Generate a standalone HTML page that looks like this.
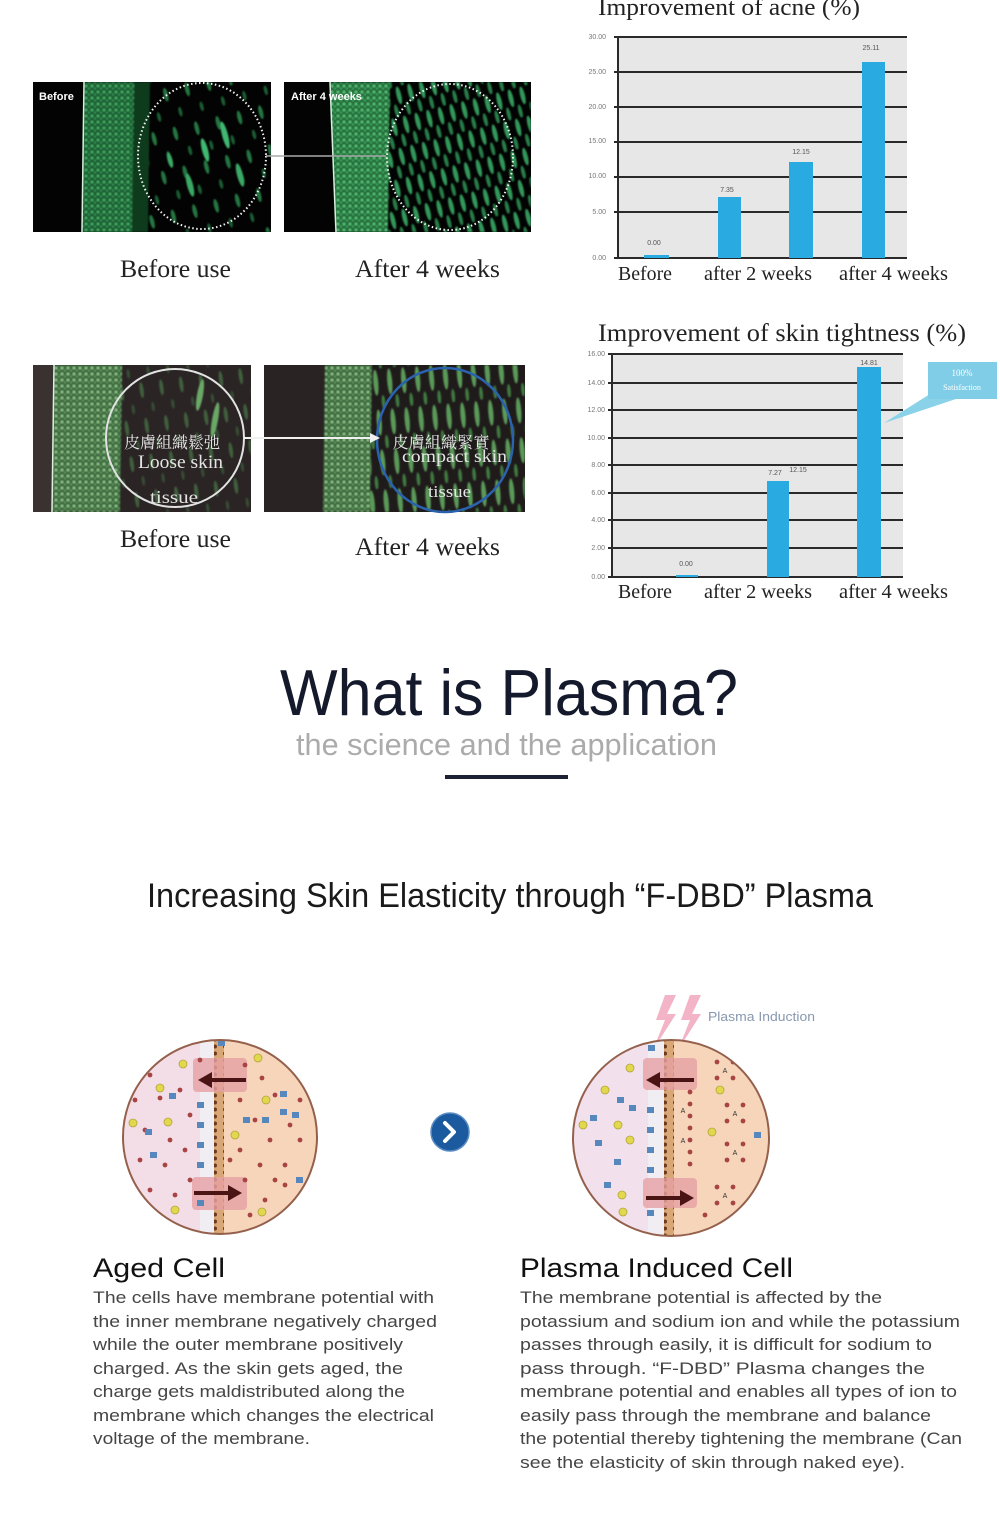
<!DOCTYPE html>
<html><head><meta charset="utf-8">
<style>
html,body{margin:0;padding:0;background:#fff;}
svg{display:block;}
</style></head><body>
<svg width="1000" height="1534" viewBox="0 0 1000 1534" xmlns="http://www.w3.org/2000/svg">
<defs>
  <filter id="blur1" x="-5%" y="-5%" width="110%" height="110%"><feGaussianBlur stdDeviation="0.9"/></filter>
  <pattern id="epi1" width="6" height="6" patternUnits="userSpaceOnUse">
    <rect width="6" height="6" fill="#1c5e30"/>
    <circle cx="2" cy="2" r="1.4" fill="#48b56a"/>
    <circle cx="5" cy="4.5" r="1.1" fill="#35975a"/>
  </pattern>
  <pattern id="epi2" width="6" height="6" patternUnits="userSpaceOnUse">
    <rect width="6" height="6" fill="#246b38"/>
    <circle cx="2" cy="2" r="1.5" fill="#58c57a"/>
    <circle cx="5" cy="4.5" r="1.2" fill="#3fa862"/>
  </pattern>
  <pattern id="epi3" width="6" height="6" patternUnits="userSpaceOnUse">
    <rect width="6" height="6" fill="#3c673e"/>
    <circle cx="2" cy="2" r="1.5" fill="#8fc48a"/>
    <circle cx="5" cy="4.5" r="1.2" fill="#5f9a5e"/>
  </pattern>
  <pattern id="st1" width="22" height="40" patternUnits="userSpaceOnUse" patternTransform="rotate(-14)">
    <ellipse cx="6" cy="12" rx="2.2" ry="7" fill="#2a8a4c"/>
    <ellipse cx="16" cy="32" rx="1.8" ry="5" fill="#1f6e3c"/>
  </pattern>
  <pattern id="st2" width="12" height="30" patternUnits="userSpaceOnUse" patternTransform="rotate(-14)">
    <ellipse cx="4" cy="9" rx="2.4" ry="9" fill="#33985a"/>
    <ellipse cx="10" cy="24" rx="2" ry="7" fill="#277e48"/>
  </pattern>
  <pattern id="st3" width="20" height="36" patternUnits="userSpaceOnUse" patternTransform="rotate(-8)">
    <ellipse cx="6" cy="10" rx="2" ry="8" fill="#4a7a48"/>
    <ellipse cx="15" cy="28" rx="1.6" ry="5" fill="#3a5e3a"/>
  </pattern>
  <pattern id="st4" width="14" height="40" patternUnits="userSpaceOnUse" patternTransform="rotate(-5)">
    <ellipse cx="5" cy="14" rx="2.5" ry="13" fill="#5a9a58"/>
    <ellipse cx="11" cy="34" rx="1.8" ry="7" fill="#3f7a40"/>
  </pattern>
  <pattern id="memb" width="10" height="7" patternUnits="userSpaceOnUse">
    <rect width="10" height="7" fill="#d9a676"/>
    <circle cx="5" cy="3.5" r="2" fill="#6a3a20"/>
  </pattern>
  <clipPath id="c1"><circle cx="220" cy="1137" r="97"/></clipPath>
  <clipPath id="c2"><circle cx="671" cy="1138" r="98"/></clipPath>
  <clipPath id="im1"><rect x="33" y="82" width="238" height="150"/></clipPath>
  <clipPath id="im2"><rect x="284" y="82" width="247" height="150"/></clipPath>
  <clipPath id="im3"><rect x="33" y="365" width="218" height="147"/></clipPath>
  <clipPath id="im4"><rect x="264" y="365" width="261" height="147"/></clipPath>
</defs>

<rect width="1000" height="1534" fill="#fff"/>

<!-- ============ IMAGE ROW 1 ============ -->
<g clip-path="url(#im1)">
  <rect x="33" y="82" width="238" height="150" fill="#020302"/>
  <g filter="url(#blur1)">
  <rect x="135" y="82" width="136" height="150" fill="url(#st1)" opacity="0.85"/>
  <polygon points="84,82 136,82 134,232 82,232" fill="url(#epi1)"/>
  <polygon points="134,82 150,82 148,232 132,232" fill="#0e3a1c"/>
  <ellipse cx="205" cy="150" rx="3" ry="12" fill="#40b870" transform="rotate(-15 205 150)"/>
  <ellipse cx="225" cy="135" rx="3" ry="14" fill="#40b870" transform="rotate(-15 225 135)"/>
  <ellipse cx="190" cy="185" rx="3" ry="12" fill="#3aa865" transform="rotate(-15 190 185)"/>
  <ellipse cx="240" cy="175" rx="3" ry="12" fill="#3aa865" transform="rotate(-15 240 175)"/>
  <ellipse cx="170" cy="160" rx="2.5" ry="8" fill="#3aa865" transform="rotate(-15 170 160)"/>
  </g>
  <line x1="84" y1="82" x2="82" y2="232" stroke="#d8efe0" stroke-width="1.5"/>
  <text x="39" y="100" font-family="Liberation Sans, sans-serif" font-weight="bold" font-size="11" fill="#fff">Before</text>
</g>
<ellipse cx="202" cy="156" rx="64" ry="73" fill="none" stroke="#f2f2f2" stroke-width="2" stroke-dasharray="1.5 2.5"/>

<g clip-path="url(#im2)">
  <rect x="284" y="82" width="247" height="150" fill="#020302"/>
  <g filter="url(#blur1)">
  <rect x="385" y="82" width="146" height="150" fill="url(#st2)"/>
  <polygon points="330,82 390,82 388,232 336,232" fill="url(#epi2)"/>
  </g>
  <line x1="330" y1="82" x2="336" y2="232" stroke="#d8efe0" stroke-width="1.5"/>
  <text x="291" y="100" font-family="Liberation Sans, sans-serif" font-weight="bold" font-size="11" fill="#fff">After 4 weeks</text>
</g>
<ellipse cx="450" cy="157" rx="63" ry="73" fill="none" stroke="#f2f2f2" stroke-width="2" stroke-dasharray="1.5 2.5"/>
<line x1="266" y1="156" x2="386" y2="156" stroke="#aaaaaa" stroke-width="1.5"/>

<text x="120" y="277" textLength="111" lengthAdjust="spacingAndGlyphs" font-family="Liberation Serif, serif" font-size="25" fill="#222">Before use</text>
<text x="355" y="277" textLength="145" lengthAdjust="spacingAndGlyphs" font-family="Liberation Serif, serif" font-size="25" fill="#222">After 4 weeks</text>

<!-- ============ IMAGE ROW 2 ============ -->
<g clip-path="url(#im3)">
  <rect x="33" y="365" width="218" height="147" fill="#2a2424"/>
  <rect x="33" y="365" width="20" height="147" fill="#3a3131"/>
  <g filter="url(#blur1)">
  <rect x="120" y="365" width="131" height="147" fill="url(#st3)" opacity="0.7"/>
  <polygon points="54,365 122,365 120,512 52,512" fill="url(#epi3)"/>
  <ellipse cx="200" cy="395" rx="3" ry="16" fill="#6aa866" transform="rotate(10 200 395)"/>
  <ellipse cx="215" cy="420" rx="3" ry="18" fill="#6aa866" transform="rotate(10 215 420)"/>
  </g>
  <line x1="54" y1="365" x2="52" y2="512" stroke="#e0f0e0" stroke-width="1.5"/>
</g>
<circle cx="175" cy="438" r="69" fill="none" stroke="#e2e2e2" stroke-width="2"/>
<text x="172" y="448" text-anchor="middle" textLength="96" lengthAdjust="spacingAndGlyphs" font-family="Liberation Serif, 'Noto Serif CJK SC', serif" font-size="16" fill="#e8e8e8">皮膚組織鬆弛</text>
<text x="138" y="468" textLength="85" lengthAdjust="spacingAndGlyphs" font-family="Liberation Serif, serif" font-size="19" fill="#e4e4e4">Loose skin</text>
<text x="150" y="503" textLength="48" lengthAdjust="spacingAndGlyphs" font-family="Liberation Serif, serif" font-size="18" fill="#e4e4e4">tissue</text>

<g clip-path="url(#im4)">
  <rect x="264" y="365" width="261" height="147" fill="#1f1b1b"/>
  <rect x="264" y="365" width="61" height="147" fill="#2a2323"/>
  <g filter="url(#blur1)">
  <rect x="370" y="365" width="155" height="147" fill="url(#st4)"/>
  <polygon points="325,365 372,365 370,512 323,512" fill="url(#epi3)"/>
  </g>
</g>
<ellipse cx="445" cy="440" rx="68" ry="72" fill="none" stroke="#2b62ad" stroke-width="2.5"/>
<line x1="244" y1="438" x2="372" y2="438" stroke="#f0f0f0" stroke-width="2"/>
<polygon points="380,438 370,433 370,443" fill="#f0f0f0"/>
<text x="441" y="448" text-anchor="middle" textLength="97" lengthAdjust="spacingAndGlyphs" font-family="Liberation Serif, 'Noto Serif CJK SC', serif" font-size="16" fill="#e8e8e8">皮膚組織緊實</text>
<text x="402" y="462" textLength="105" lengthAdjust="spacingAndGlyphs" font-family="Liberation Serif, serif" font-size="18" fill="#e4e4e4">compact skin</text>
<text x="428" y="497" textLength="43" lengthAdjust="spacingAndGlyphs" font-family="Liberation Serif, serif" font-size="17" fill="#e4e4e4">tissue</text>

<text x="120" y="547" textLength="111" lengthAdjust="spacingAndGlyphs" font-family="Liberation Serif, serif" font-size="25" fill="#222">Before use</text>
<text x="355" y="555" textLength="145" lengthAdjust="spacingAndGlyphs" font-family="Liberation Serif, serif" font-size="25" fill="#222">After 4 weeks</text>

<!-- ============ CHART 1 ============ -->
<text x="598" y="15" textLength="262" lengthAdjust="spacingAndGlyphs" font-family="Liberation Serif, serif" font-size="24" fill="#222">Improvement of acne (%)</text>
<rect x="618" y="37" width="289" height="221" fill="#e7e7e7"/>
<g stroke="#2a2a2a" stroke-width="2">
  <line x1="614" y1="37" x2="907" y2="37"/>
  <line x1="614" y1="72" x2="907" y2="72"/>
  <line x1="614" y1="107" x2="907" y2="107"/>
  <line x1="614" y1="142" x2="907" y2="142"/>
  <line x1="614" y1="177" x2="907" y2="177"/>
  <line x1="614" y1="212" x2="907" y2="212"/>
  <line x1="614" y1="258" x2="907" y2="258"/>
  <line x1="618" y1="37" x2="618" y2="258"/>
</g>
<g font-family="Liberation Sans, sans-serif" font-size="7" fill="#777" text-anchor="end">
  <text x="606" y="39">30.00</text>
  <text x="606" y="74">25.00</text>
  <text x="606" y="109">20.00</text>
  <text x="606" y="143">15.00</text>
  <text x="606" y="178">10.00</text>
  <text x="606" y="214">5.00</text>
  <text x="606" y="260">0.00</text>
</g>
<g fill="#29abe2">
  <rect x="644" y="255" width="25" height="3"/>
  <rect x="718" y="197" width="23" height="61"/>
  <rect x="789" y="162" width="24" height="96"/>
  <rect x="862" y="62" width="23" height="196"/>
</g>
<g font-family="Liberation Sans, sans-serif" font-size="7" fill="#555" text-anchor="middle">
  <text x="654" y="245">0.00</text>
  <text x="727" y="192">7.35</text>
  <text x="801" y="154">12.15</text>
  <text x="871" y="50">25.11</text>
</g>
<g font-family="Liberation Serif, serif" font-size="20" fill="#222">
  <text x="618" y="280" textLength="54" lengthAdjust="spacingAndGlyphs">Before</text>
  <text x="704" y="280" textLength="108" lengthAdjust="spacingAndGlyphs">after 2 weeks</text>
  <text x="839" y="280" textLength="109" lengthAdjust="spacingAndGlyphs">after 4 weeks</text>
</g>

<!-- ============ CHART 2 ============ -->
<text x="598" y="341" textLength="368" lengthAdjust="spacingAndGlyphs" font-family="Liberation Serif, serif" font-size="25" fill="#222">Improvement of skin tightness (%)</text>
<rect x="612" y="354" width="291" height="223" fill="#e7e7e7"/>
<g stroke="#2a2a2a" stroke-width="2">
  <line x1="608" y1="354" x2="903" y2="354"/>
  <line x1="608" y1="383" x2="903" y2="383"/>
  <line x1="608" y1="410" x2="903" y2="410"/>
  <line x1="608" y1="438" x2="903" y2="438"/>
  <line x1="608" y1="465" x2="903" y2="465"/>
  <line x1="608" y1="493" x2="903" y2="493"/>
  <line x1="608" y1="520" x2="903" y2="520"/>
  <line x1="608" y1="548" x2="903" y2="548"/>
  <line x1="608" y1="577" x2="903" y2="577"/>
  <line x1="612" y1="354" x2="612" y2="577"/>
</g>
<g font-family="Liberation Sans, sans-serif" font-size="7" fill="#777" text-anchor="end">
  <text x="605" y="356">16.00</text>
  <text x="605" y="385">14.00</text>
  <text x="605" y="412">12.00</text>
  <text x="605" y="440">10.00</text>
  <text x="605" y="467">8.00</text>
  <text x="605" y="495">6.00</text>
  <text x="605" y="522">4.00</text>
  <text x="605" y="550">2.00</text>
  <text x="605" y="579">0.00</text>
</g>
<g fill="#29abe2">
  <rect x="676" y="575" width="22" height="2"/>
  <rect x="767" y="481" width="22" height="96"/>
  <rect x="857" y="367" width="24" height="210"/>
</g>
<g font-family="Liberation Sans, sans-serif" font-size="7" fill="#555" text-anchor="middle">
  <text x="686" y="566">0.00</text>
  <text x="775" y="475">7.27</text>
  <text x="798" y="472">12.15</text>
  <text x="869" y="365">14.81</text>
</g>
<polygon points="930,394 956,399 884,423" fill="#8ad2e8"/>
<rect x="928" y="362" width="69" height="37" fill="#7fcde6"/>
<g font-family="Liberation Serif, serif" fill="#ffffff" text-anchor="middle">
  <text x="962" y="376" font-size="9">100%</text>
  <text x="962" y="390" font-size="8">Satisfaction</text>
</g>
<g font-family="Liberation Serif, serif" font-size="20" fill="#222">
  <text x="618" y="598" textLength="54" lengthAdjust="spacingAndGlyphs">Before</text>
  <text x="704" y="598" textLength="108" lengthAdjust="spacingAndGlyphs">after 2 weeks</text>
  <text x="839" y="598" textLength="109" lengthAdjust="spacingAndGlyphs">after 4 weeks</text>
</g>

<!-- ============ WHAT IS PLASMA ============ -->
<text x="280" y="715" textLength="458" lengthAdjust="spacingAndGlyphs" font-family="Liberation Sans, sans-serif" font-size="65" fill="#141a2c">What is Plasma?</text>
<text x="296" y="755" textLength="421" lengthAdjust="spacingAndGlyphs" font-family="Liberation Sans, sans-serif" font-size="31" fill="#ababab">the science and the application</text>
<rect x="445" y="775" width="123" height="4" fill="#1c2234"/>

<text x="147" y="907" textLength="726" lengthAdjust="spacingAndGlyphs" font-family="Liberation Sans, sans-serif" font-size="34" fill="#1a1a1a">Increasing Skin Elasticity through “F-DBD” Plasma</text>

<!-- ============ AGED CELL ============ -->
<g clip-path="url(#c1)">
  <rect x="120" y="1038" width="82" height="200" fill="#f3dde6"/>
  <rect x="200" y="1038" width="15" height="200" fill="#f1eef3"/>
  <rect x="223" y="1038" width="100" height="200" fill="#f6d5bb"/>
  <rect x="214" y="1038" width="10" height="200" fill="url(#memb)"/>
  <rect x="193" y="1058" width="54" height="34" rx="4" fill="#e6a0a4" opacity="0.8"/>
  <rect x="192" y="1177" width="55" height="33" rx="4" fill="#e6a0a4" opacity="0.8"/>
  <g fill="#a84444">
    <circle cx="150" cy="1075" r="2.4"/><circle cx="135" cy="1100" r="2.4"/><circle cx="160" cy="1098" r="2.4"/>
    <circle cx="180" cy="1090" r="2.4"/><circle cx="145" cy="1130" r="2.4"/><circle cx="170" cy="1140" r="2.4"/>
    <circle cx="190" cy="1115" r="2.4"/><circle cx="140" cy="1160" r="2.4"/><circle cx="165" cy="1165" r="2.4"/>
    <circle cx="185" cy="1150" r="2.4"/><circle cx="150" cy="1190" r="2.4"/><circle cx="175" cy="1195" r="2.4"/>
    <circle cx="160" cy="1215" r="2.4"/><circle cx="190" cy="1180" r="2.4"/><circle cx="200" cy="1060" r="2.4"/>
    <circle cx="245" cy="1065" r="2.4"/><circle cx="262" cy="1078" r="2.4"/><circle cx="275" cy="1095" r="2.4"/>
    <circle cx="240" cy="1100" r="2.4"/><circle cx="255" cy="1120" r="2.4"/><circle cx="270" cy="1140" r="2.4"/>
    <circle cx="290" cy="1125" r="2.4"/><circle cx="240" cy="1150" r="2.4"/><circle cx="260" cy="1165" r="2.4"/>
    <circle cx="285" cy="1165" r="2.4"/><circle cx="300" cy="1140" r="2.4"/><circle cx="245" cy="1180" r="2.4"/>
    <circle cx="265" cy="1200" r="2.4"/><circle cx="285" cy="1185" r="2.4"/><circle cx="300" cy="1100" r="2.4"/>
    <circle cx="250" cy="1215" r="2.4"/><circle cx="275" cy="1180" r="2.4"/><circle cx="230" cy="1160" r="2.4"/>
  </g>
  <g fill="#e2d84e" stroke="#b3a53a" stroke-width="0.8">
    <circle cx="183" cy="1064" r="4"/><circle cx="160" cy="1088" r="4"/><circle cx="133" cy="1123" r="4"/>
    <circle cx="168" cy="1122" r="4"/><circle cx="175" cy="1210" r="4"/><circle cx="258" cy="1058" r="4"/>
    <circle cx="266" cy="1100" r="4"/><circle cx="235" cy="1135" r="4"/><circle cx="262" cy="1212" r="4"/>
  </g>
  <g fill="#5687bd">
    <rect x="169" y="1093" width="7" height="6"/><rect x="145" y="1129" width="7" height="6"/>
    <rect x="197" y="1122" width="7" height="6"/><rect x="197" y="1142" width="7" height="6"/>
    <rect x="197" y="1162" width="7" height="6"/><rect x="150" y="1152" width="7" height="6"/>
    <rect x="197" y="1102" width="7" height="6"/><rect x="197" y="1200" width="7" height="6"/>
    <rect x="280" y="1091" width="7" height="6"/><rect x="280" y="1109" width="7" height="6"/>
    <rect x="262" y="1117" width="7" height="6"/><rect x="292" y="1112" width="7" height="6"/>
    <rect x="296" y="1177" width="7" height="6"/><rect x="243" y="1117" width="7" height="6"/>
    <rect x="218" y="1040" width="7" height="6"/>
  </g>
</g>
<circle cx="220" cy="1137" r="97" fill="none" stroke="#94604c" stroke-width="2"/>
<g stroke="#4a1414" stroke-width="4" fill="#4a1414">
  <line x1="246" y1="1080" x2="208" y2="1080"/>
  <polygon points="198,1080 212,1072 212,1088" stroke="none"/>
  <line x1="194" y1="1193" x2="232" y2="1193"/>
  <polygon points="242,1193 228,1185 228,1201" stroke="none"/>
</g>

<!-- arrow button -->
<circle cx="450" cy="1132" r="19" fill="#1b5a9e" stroke="#5a8cc4" stroke-width="1.5"/>
<path d="M445,1123 L454,1132 L445,1141" stroke="#fff" stroke-width="4" fill="none" stroke-linecap="round" stroke-linejoin="round"/>

<!-- ============ PLASMA CELL ============ -->
<polygon points="665,995 656,1020 665,1020 653,1050 676,1014 667,1014 676,995" fill="#f2b4c6"/>
<polygon points="690,995 681,1020 690,1020 678,1050 701,1014 692,1014 701,995" fill="#f2b4c6"/>
<text x="708" y="1021" textLength="107" lengthAdjust="spacingAndGlyphs" font-family="Liberation Sans, sans-serif" font-size="13" fill="#8898b0">Plasma Induction</text>
<g clip-path="url(#c2)">
  <rect x="570" y="1038" width="80" height="202" fill="#f2e0ec"/>
  <rect x="648" y="1038" width="16" height="202" fill="#f0edf3"/>
  <rect x="673" y="1038" width="100" height="202" fill="#f6d5bb"/>
  <rect x="664" y="1038" width="10" height="202" fill="url(#memb)"/>
  <rect x="643" y="1058" width="54" height="32" rx="4" fill="#e6a0a4" opacity="0.8"/>
  <rect x="643" y="1178" width="54" height="30" rx="4" fill="#e6a0a4" opacity="0.8"/>
  <g fill="#a84444">
    <circle cx="717" cy="1062" r="2.4"/><circle cx="733" cy="1062" r="2.4"/><circle cx="717" cy="1078" r="2.4"/><circle cx="733" cy="1078" r="2.4"/>
    <circle cx="727" cy="1105" r="2.4"/><circle cx="743" cy="1105" r="2.4"/><circle cx="727" cy="1121" r="2.4"/><circle cx="743" cy="1121" r="2.4"/>
    <circle cx="727" cy="1144" r="2.4"/><circle cx="743" cy="1144" r="2.4"/><circle cx="727" cy="1160" r="2.4"/><circle cx="743" cy="1160" r="2.4"/>
    <circle cx="717" cy="1187" r="2.4"/><circle cx="733" cy="1187" r="2.4"/><circle cx="717" cy="1203" r="2.4"/><circle cx="733" cy="1203" r="2.4"/>
    <circle cx="690" cy="1092" r="2.4"/><circle cx="690" cy="1104" r="2.4"/><circle cx="690" cy="1116" r="2.4"/>
    <circle cx="690" cy="1128" r="2.4"/><circle cx="690" cy="1140" r="2.4"/><circle cx="690" cy="1152" r="2.4"/>
    <circle cx="690" cy="1164" r="2.4"/><circle cx="758" cy="1085" r="2.4"/><circle cx="705" cy="1215" r="2.4"/>
  </g>
  <g fill="#333" font-family="Liberation Sans, sans-serif" font-size="7" text-anchor="middle">
    <text x="725" y="1073">A</text><text x="735" y="1116">A</text><text x="735" y="1155">A</text><text x="725" y="1198">A</text>
    <text x="683" y="1113">A</text><text x="683" y="1143">A</text>
  </g>
  <g fill="#e2d84e" stroke="#b3a53a" stroke-width="0.8">
    <circle cx="630" cy="1068" r="4"/><circle cx="605" cy="1090" r="4"/><circle cx="583" cy="1125" r="4"/>
    <circle cx="618" cy="1125" r="4"/><circle cx="630" cy="1140" r="4"/><circle cx="622" cy="1195" r="4"/>
    <circle cx="623" cy="1212" r="4"/><circle cx="720" cy="1090" r="4"/><circle cx="712" cy="1132" r="4"/>
  </g>
  <g fill="#5687bd">
    <rect x="617" y="1097" width="7" height="6"/><rect x="629" y="1105" width="7" height="6"/>
    <rect x="590" y="1115" width="7" height="6"/><rect x="595" y="1140" width="7" height="6"/>
    <rect x="614" y="1159" width="7" height="6"/><rect x="604" y="1182" width="7" height="6"/>
    <rect x="647" y="1107" width="7" height="6"/><rect x="647" y="1127" width="7" height="6"/>
    <rect x="647" y="1147" width="7" height="6"/><rect x="647" y="1167" width="7" height="6"/>
    <rect x="647" y="1210" width="7" height="6"/><rect x="754" y="1132" width="7" height="6"/>
    <rect x="648" y="1045" width="7" height="6"/>
  </g>
</g>
<circle cx="671" cy="1138" r="98" fill="none" stroke="#94604c" stroke-width="2"/>
<g stroke="#4a1414" stroke-width="4" fill="#4a1414">
  <line x1="694" y1="1080" x2="656" y2="1080"/>
  <polygon points="646,1080 660,1072 660,1088" stroke="none"/>
  <line x1="646" y1="1198" x2="684" y2="1198"/>
  <polygon points="694,1198 680,1190 680,1206" stroke="none"/>
</g>

<!-- ============ CELL TEXTS ============ -->
<text x="93" y="1277" textLength="132" lengthAdjust="spacingAndGlyphs" font-family="Liberation Sans, sans-serif" font-size="27" fill="#111">Aged Cell</text>
<g font-family="Liberation Sans, sans-serif" font-size="17" fill="#454545">
  <text x="93" y="1303" textLength="341" lengthAdjust="spacingAndGlyphs">The cells have membrane potential with</text>
  <text x="93" y="1327" textLength="344" lengthAdjust="spacingAndGlyphs">the inner membrane negatively charged</text>
  <text x="93" y="1350" textLength="310" lengthAdjust="spacingAndGlyphs">while the outer membrane positively</text>
  <text x="93" y="1374" textLength="310" lengthAdjust="spacingAndGlyphs">charged. As the skin gets aged, the</text>
  <text x="93" y="1397" textLength="312" lengthAdjust="spacingAndGlyphs">charge gets maldistributed along the</text>
  <text x="93" y="1421" textLength="341" lengthAdjust="spacingAndGlyphs">membrane which changes the electrical</text>
  <text x="93" y="1444" textLength="217" lengthAdjust="spacingAndGlyphs">voltage of the membrane.</text>
</g>

<text x="520" y="1277" textLength="273" lengthAdjust="spacingAndGlyphs" font-family="Liberation Sans, sans-serif" font-size="27" fill="#111">Plasma Induced Cell</text>
<g font-family="Liberation Sans, sans-serif" font-size="17" fill="#454545">
  <text x="520" y="1303" textLength="362" lengthAdjust="spacingAndGlyphs">The membrane potential is affected by the</text>
  <text x="520" y="1327" textLength="440" lengthAdjust="spacingAndGlyphs">potassium and sodium ion and while the potassium</text>
  <text x="520" y="1350" textLength="412" lengthAdjust="spacingAndGlyphs">passes through easily, it is difficult for sodium to</text>
  <text x="520" y="1374" textLength="405" lengthAdjust="spacingAndGlyphs">pass through.  “F-DBD”  Plasma changes the</text>
  <text x="520" y="1397" textLength="437" lengthAdjust="spacingAndGlyphs">membrane potential and enables all types of ion to</text>
  <text x="520" y="1421" textLength="411" lengthAdjust="spacingAndGlyphs">easily pass through the membrane and balance</text>
  <text x="520" y="1444" textLength="442" lengthAdjust="spacingAndGlyphs">the potential thereby tightening the membrane (Can</text>
  <text x="520" y="1468" textLength="385" lengthAdjust="spacingAndGlyphs">see the elasticity of skin through naked eye).</text>
</g>
</svg>
</body></html>
